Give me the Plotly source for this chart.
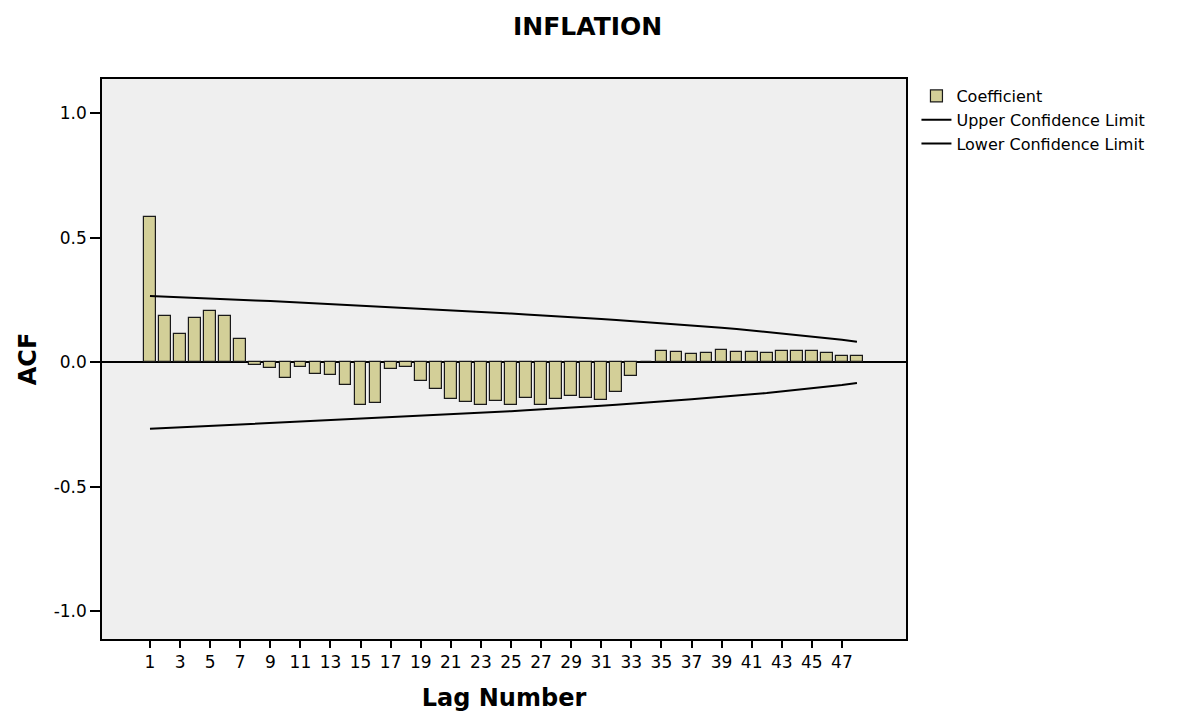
import plotly.graph_objects as go

lags = list(range(1, 49))
acf = [0.585, 0.187, 0.112, 0.179, 0.205, 0.185, 0.095, -0.012, -0.023, -0.063,
       -0.019, -0.046, -0.050, -0.090, -0.170, -0.163, -0.028, -0.018, -0.074, -0.105,
       -0.146, -0.158, -0.170, -0.154, -0.170, -0.143, -0.170, -0.146, -0.135, -0.144,
       -0.150, -0.119, -0.053, 0.000, 0.045, 0.040, 0.035, 0.039, 0.051, 0.041,
       0.041, 0.038, 0.044, 0.045, 0.045, 0.036, 0.027, 0.025]
upper = [0.267, 0.264, 0.262, 0.259, 0.257, 0.254, 0.251, 0.248, 0.246, 0.243,
         0.240, 0.237, 0.234, 0.231, 0.228, 0.225, 0.222, 0.219, 0.216, 0.213,
         0.209, 0.206, 0.203, 0.199, 0.196, 0.192, 0.189, 0.185, 0.181, 0.178,
         0.174, 0.170, 0.166, 0.161, 0.157, 0.153, 0.148, 0.143, 0.139, 0.134,
         0.128, 0.123, 0.117, 0.111, 0.105, 0.098, 0.091, 0.083]
lower = [-v for v in upper]
tick_lags = list(range(1, 48, 2))
y_ticks = [-1.0, -0.5, 0.0, 0.5, 1.0]
y_tick_text = ["-1.0", "-0.5", "0.0", "0.5", "1.0"]

FONT = "DejaVu Sans"

fig = go.Figure()
fig.add_trace(go.Bar(
    x=lags, y=acf, name="Coefficient", width=0.78,
    marker=dict(color="#d3cf98", line=dict(color="#1a1a1a", width=1.2)),
))
fig.add_trace(go.Scatter(
    x=lags, y=upper, mode="lines", name="Upper Confidence Limit",
    line=dict(color="black", width=2),
))
fig.add_trace(go.Scatter(
    x=lags, y=lower, mode="lines", name="Lower Confidence Limit",
    line=dict(color="black", width=2),
))

fig.update_layout(
    width=1200, height=717,
    margin=dict(l=94, r=302, t=71, b=86),
    paper_bgcolor="white",
    plot_bgcolor="#efefef",
    font=dict(family=FONT, color="black", size=17),
    title=dict(text="<b>INFLATION</b>", x=0.483, xanchor="center", y=0.975, yanchor="middle",
               font=dict(family=FONT, size=25, color="black")),
    showlegend=True,
    legend=dict(x=1.013, y=1.0, xanchor="left", yanchor="top",
                font=dict(family=FONT, size=16, color="black"),
                bgcolor="rgba(0,0,0,0)", traceorder="normal",
                tracegroupgap=0, itemwidth=30),
    bargap=0,
)
fig.update_xaxes(
    range=[-2.19, 51.26], tickmode="array", tickvals=tick_lags,
    ticktext=[str(t) for t in tick_lags],
    ticks="outside", ticklen=7, tickwidth=1.5, tickcolor="black",
    showline=True, linecolor="black", linewidth=1.5, mirror=True,
    showgrid=False, zeroline=False,
    tickfont=dict(family=FONT, size=17, color="black"),
    title=dict(text="<b>Lag Number</b>", font=dict(family=FONT, size=24, color="black"), standoff=18),
)
fig.update_yaxes(
    range=[-1.111, 1.138], tickmode="array", tickvals=y_ticks, ticktext=y_tick_text,
    ticks="outside", ticklen=10, tickwidth=1.5, tickcolor="black",
    showline=True, linecolor="black", linewidth=1.5, mirror=True,
    showgrid=False, zeroline=True, zerolinecolor="black", zerolinewidth=1.5,
    tickfont=dict(family=FONT, size=17, color="black"),
    title=dict(text="<b>ACF</b>", font=dict(family=FONT, size=24, color="black"), standoff=10),
)

fig.write_html("out.html")
